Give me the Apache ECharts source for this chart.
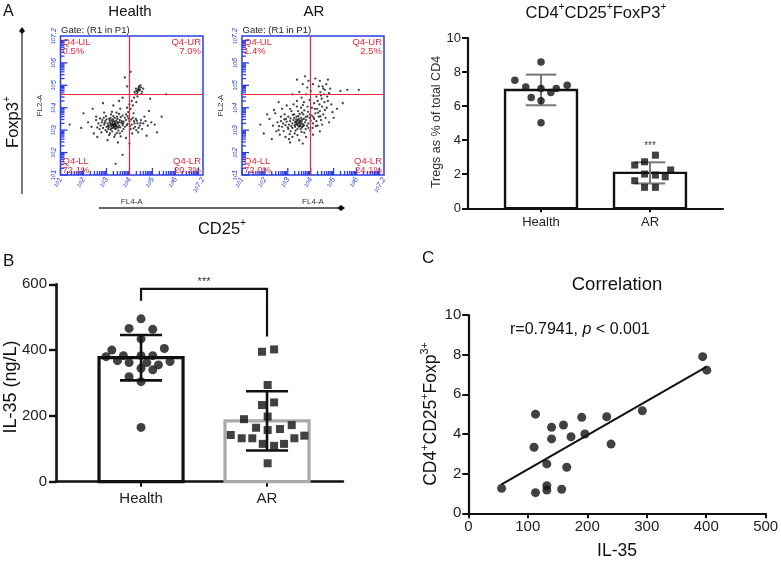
<!DOCTYPE html>
<html><head><meta charset="utf-8">
<script src="https://cdn.jsdelivr.net/npm/echarts@6/dist/echarts.min.js"></script>
<style>html,body{margin:0;padding:0;background:#fff}#c{width:781px;height:561px}</style>
</head><body><div id="c"></div>
<script>
// ---------------- DATA ----------------
const categories = ['Health', 'AR'];

// Panel A (flow cytometry) – events as [log10 FL4-A, log10 FL2-A]
const flowHealthEvents = [
[3.30,3.25],[3.35,3.20],[3.25,3.30],[3.40,3.28],[3.20,3.18],[3.45,3.15],[3.15,3.35],[3.32,3.40],[3.28,3.10],[3.50,3.30],
[3.10,3.22],[3.38,3.05],[3.55,3.20],[3.05,3.30],[3.22,3.45],[3.42,3.42],[3.60,3.12],[3.00,3.15],[3.18,3.02],[3.48,3.50],
[3.65,3.32],[2.95,3.40],[3.12,3.50],[3.36,3.55],[3.58,3.45],[3.70,3.22],[2.90,3.25],[3.25,2.95],[3.52,2.98],[3.08,3.05],
[3.75,3.38],[2.85,3.10],[3.30,3.62],[3.62,3.58],[2.80,3.35],[3.02,2.92],[3.45,2.88],[3.80,3.15],[2.75,3.20],[3.20,3.70],
[3.68,2.95],[2.88,3.55],[3.85,3.45],[2.70,3.05],[3.38,2.80],[3.92,3.28],[2.65,3.30],[3.15,2.85],[3.55,3.72],[2.98,3.62],
[3.33,3.28],[3.27,3.22],[3.37,3.33],[3.23,3.24],[3.43,3.22],[3.31,3.17],[3.18,3.28],[3.47,3.36],[3.35,3.12],[3.26,3.38],
[3.10,3.12],[3.22,3.08],[3.44,3.08],[3.56,3.36],[3.14,3.42],[3.28,3.48],[3.40,3.18],[3.52,3.12],[3.06,3.18],[3.66,3.40],
[2.92,3.32],[3.00,3.48],[3.18,3.55],[3.46,3.60],[3.72,3.30],[3.80,3.55],[2.82,3.45],[2.96,3.00],[3.12,2.78],[3.58,2.86],
[3.74,3.05],[3.88,3.22],[4.02,3.18],[4.08,3.48],[4.22,3.30],[4.32,3.42],[4.48,3.32],[4.18,3.08],[3.96,3.52],[2.72,3.52],
[2.60,3.12],[2.55,3.45],[2.78,2.90],[3.34,2.70],[3.62,2.72],[3.24,3.82],[3.44,3.78],[3.70,3.65],[3.92,3.62],[2.90,3.78],
[4.10,3.25],[4.25,3.15],[4.35,3.30],[4.20,3.40],[4.45,3.20],[4.05,3.05],[4.30,3.00],[4.50,3.45],[4.15,3.55],[4.40,3.10],
[4.60,3.30],[4.00,3.40],[4.28,3.50],[4.55,3.05],[4.70,3.40],[4.38,2.90],[4.80,3.20],[4.12,2.85],[4.65,3.60],[4.95,3.35],
[3.95,3.80],[4.05,3.95],[4.15,4.10],[4.10,4.30],[4.20,4.45],[4.25,4.60],[4.00,4.15],[3.90,4.00],[4.30,4.25],[4.18,3.75],
[3.85,3.70],[4.35,4.50],
[4.30,4.75],[4.38,4.82],[4.45,4.78],[4.35,4.68],[4.50,4.90],[4.28,4.85],[4.42,4.95],[4.55,4.72],[4.40,4.88],[4.48,5.00],
[4.22,4.70],[4.60,4.85],[4.33,4.60],[4.52,4.62],[4.43,4.80],[4.37,4.76],
[2.00,3.75],[1.40,3.25],[2.40,3.95],[2.55,3.60],[2.45,2.85],[2.60,2.70],[3.70,1.90],[3.50,2.45],[3.05,2.55],[4.00,2.40],
[3.85,2.65],[5.10,3.25],[5.40,3.60],[4.90,4.40],[3.80,5.35],[3.90,4.95],[3.70,4.45],[2.85,4.20],[1.90,3.10],[5.60,4.60],
[4.75,2.75],[3.30,4.10],[3.55,4.30],[5.20,2.90],[2.20,3.35],[4.85,3.85],[3.40,1.50],[4.05,5.60],[3.60,3.95],[2.35,3.15]
];
const flowAREvents = [
[3.50,3.35],[3.40,3.30],[3.60,3.40],[3.45,3.45],[3.55,3.25],[3.35,3.38],[3.65,3.28],[3.30,3.22],[3.70,3.50],[3.48,3.15],
[3.25,3.45],[3.58,3.55],[3.38,3.60],[3.75,3.35],[3.20,3.30],[3.62,3.12],[3.80,3.45],[3.15,3.18],[3.42,3.05],[3.85,3.62],
[3.28,3.55],[3.68,3.70],[3.10,3.40],[3.90,3.30],[3.05,3.25],[3.52,3.72],[3.95,3.55],[3.00,3.12],[3.34,2.98],[3.78,3.05],
[2.95,3.38],[4.00,3.42],[3.22,3.68],[3.88,3.82],[2.90,3.22],[3.60,2.92],[4.05,3.65],[2.85,3.48],[3.12,2.95],[3.72,3.88],
[4.10,3.30],[2.80,3.30],[3.45,3.85],[4.15,3.50],[3.02,3.60],[3.90,3.10],[2.75,3.15],[3.30,2.85],[4.20,3.75],[3.58,4.00],
[3.47,3.31],[3.53,3.42],[3.43,3.22],[3.57,3.33],[3.37,3.48],[3.63,3.47],[3.32,3.35],[3.67,3.18],[3.52,3.20],[3.41,3.40],
[3.20,3.10],[3.32,3.15],[3.56,3.05],[3.70,3.22],[3.78,3.58],[3.46,3.62],[3.28,3.70],[3.12,3.52],[3.02,3.05],[2.92,3.50],
[3.62,3.78],[3.84,3.20],[3.96,3.70],[4.12,3.58],[4.22,3.18],[4.32,3.78],[4.18,3.95],[3.86,4.05],[3.66,4.12],[3.40,4.05],
[3.16,3.85],[2.86,3.70],[2.70,3.40],[2.62,3.18],[2.82,2.96],[3.08,2.82],[3.42,2.78],[3.72,2.88],[3.98,2.98],[4.08,3.10],
[4.42,3.62],[4.50,3.25],[4.62,3.90],[4.72,4.50],[4.55,4.85],[4.45,4.55],[4.30,4.30],[3.48,3.50],[3.56,3.18],[3.36,3.26],
[4.25,3.40],[4.35,3.60],[4.30,3.20],[4.40,3.85],[4.45,3.45],[4.50,4.05],[4.55,3.70],[4.60,4.25],[4.38,4.15],[4.65,3.55],
[4.48,4.40],[4.70,4.00],[4.58,4.60],[4.75,4.30],[4.62,4.80],[4.42,4.70],[4.80,4.65],[4.52,4.95],[4.68,5.05],[4.85,4.85],
[4.35,4.95],[4.25,4.50],[4.15,4.20],[4.05,4.00],[3.95,4.35],[4.28,3.95],[4.90,4.15],[4.95,3.80],[4.80,3.35],[5.00,3.55],
[2.70,3.60],[2.60,3.00],[2.55,3.35],[2.45,3.75],[2.35,3.20],[2.20,3.50],[2.65,2.80],[2.90,2.70],[3.05,2.60],[2.50,2.95],
[2.40,3.90],[2.75,3.95],[3.10,3.95],[2.95,4.10],[3.25,4.15],[3.40,4.30],[3.60,4.45],[3.80,4.60],[3.70,4.25],[3.50,4.70],
[3.85,4.90],[4.00,4.75],[4.10,5.05],[3.90,5.20],[3.65,5.05],[4.20,5.30],[3.40,5.25],[3.20,2.70],[3.50,2.55],[3.80,2.70],
[1.80,3.25],[1.95,2.85],[2.10,3.70],[2.30,2.60],[3.10,2.45],[3.65,2.40],[4.10,2.80],[4.40,2.95],[5.15,3.95],[5.30,4.75],
[5.60,4.80],[6.10,4.80],[5.40,4.20],[4.75,5.25],[4.40,5.20],[3.75,5.40],[3.20,4.60],[2.60,4.25]
];
const flowGate = [4.0, 4.6];                     // quadrant gate (log10 FL4-A, log10 FL2-A)
const flowTickValues = [1, 2, 3, 4, 5, 6, 7.2];  // exponent tick labels
const quadNames = ['Q4-UL', 'Q4-UR', 'Q4-LL', 'Q4-LR'];
const quadHealth = ['0.5%', '7.0%', '72.1%', '20.3%'];
const quadAR = ['1.4%', '2.5%', '72.0%', '24.1%'];

// Panel A (right): Tregs as % of total CD4
const tregMean = [6.95, 2.08];
const tregSD = [0.90, 0.62];
const tregHealthVals = [7.52, 8.59, 7.13, 7.03, 6.80, 7.03, 7.23, 6.50, 6.31, 5.02];
const tregHealthJitter = [-0.24, 0, -0.14, 0, 0.09, 0.14, 0.24, -0.09, 0, 0];
const tregARVals = [3.12, 2.54, 2.73, 2.25, 1.95, 2.01, 1.85, 1.62, 1.23, 1.23];
const tregARJitter = [0.05, -0.14, -0.05, 0.19, 0.05, -0.05, 0.14, -0.14, -0.05, 0.05];
const tregStarsAt = 3.67;

// Panel B: IL-35 (ng/L)
const il35Mean = [377, 185];
const il35SD = [69, 90];
const il35HealthVals = [495,466,463,434,400,405,380,383,368,362,383,383,362,355,365,345,340,319,304,165];
const il35HealthJitter = [0,-0.095,0.093,0,-0.232,0.185,-0.278,-0.14,-0.187,-0.095,0,0.093,0.046,0.138,0.23,0,0.093,-0.095,0,0];
const il35ARVals = [395,402,294,233,241,190,198,142,164,157,160,172,132,132,115,109,115,132,140,56];
const il35ARJitter = [-0.04,0.056,0.005,-0.04,0.056,-0.183,0.005,-0.288,-0.087,0.005,0.103,0.196,-0.201,-0.117,-0.034,0.056,0.135,0.217,0.296,0.005];
const il35Bracket = [586, 550, 441];  // top, left leg end, right leg end
const il35StarsAt = 607;

// Panel C: correlation
const corrIL35 = [56,113,132,132,157,132,165.5,110.5,140,172.7,196,140,160,190.7,232.7,240,113,292.6,394,401];
const corrTreg = [1.26,1.04,1.17,1.39,1.21,2.49,2.32,3.33,3.75,3.86,4.00,4.34,4.45,4.84,4.87,3.49,5.00,5.17,7.90,7.22];

// ---------------- CHART ----------------
const FONT = '"Liberation Sans", Arial, sans-serif';
const BLUE = '#2b3ee6', RED = '#e8283c', INK = '#111';
const chart = echarts.init(document.getElementById('c'), null, {renderer: 'canvas'});

const minorTicks = [];
for (let n = 1; n <= 7; n++) for (let k = 1; k <= 9; k++) {
  const v = n + Math.log10(k);
  if (v <= 7.2 + 1e-9) minorTicks.push([v, k === 1 ? 1 : 0]);
}

function flowAxes(gi) {
  const lab = (rot) => ({
    customValues: flowTickValues, rotate: rot, color: BLUE, fontSize: 7, margin: 3, fontFamily: FONT,
    formatter: v => '{a|10}{b|' + v + '}',
    rich: {a: {fontSize: 5.5, color: BLUE, fontStyle: 'italic'}, b: {fontSize: 7.5, color: BLUE, fontStyle: 'italic', verticalAlign: 'top'}}
  });
  return {
    x: {type: 'value', gridIndex: gi, min: 1, max: 7.2, axisLine: {show: false}, axisTick: {show: false},
        splitLine: {show: false}, axisLabel: lab(60),
        name: 'FL4-A', nameLocation: 'middle', nameGap: 18, nameTextStyle: {fontSize: 8, color: '#333', fontFamily: FONT}},
    y: {type: 'value', gridIndex: gi, min: 1, max: 7.2, axisLine: {show: false}, axisTick: {show: false},
        splitLine: {show: false}, axisLabel: lab(90),
        name: 'FL2-A', nameLocation: 'middle', nameGap: 17, nameRotate: 90, nameTextStyle: {fontSize: 8, color: '#333', fontFamily: FONT}}
  };
}

function flowSeries(gi, events) {
  return [
    {type: 'scatter', xAxisIndex: gi, yAxisIndex: gi, data: events, symbolSize: 2.3, silent: true,
     itemStyle: {color: INK}, z: 2,
     markLine: {silent: true, symbol: 'none', label: {show: false}, animation: false,
       lineStyle: {color: RED, width: 1.2, type: 'solid'},
       data: [{xAxis: flowGate[0]}, {yAxis: flowGate[1]}]}},
    {type: 'custom', xAxisIndex: gi, yAxisIndex: gi, data: minorTicks, silent: true, clip: false, z: 3,
     renderItem: (p, api) => {
       const v = api.value(0), major = api.value(1);
       const len = major ? 7 : 4;
       const a = api.coord([1, v]), b = api.coord([v, 1]);
       return {type: 'group', children: [
         {type: 'line', shape: {x1: a[0], y1: a[1], x2: a[0] + len, y2: a[1]}, style: {stroke: BLUE, lineWidth: 1.3}},
         {type: 'line', shape: {x1: b[0], y1: b[1], x2: b[0], y2: b[1] - len}, style: {stroke: BLUE, lineWidth: 1.3}}
       ]};
     }}
  ];
}

function barPanel(gi, means, sds, barStroke, barLW, barW, errColor, errLW, capHalf) {
  return [
    {type: 'custom', xAxisIndex: gi, yAxisIndex: gi, data: means.map((m, i) => [i + 1, m]), silent: true, z: 1,
     renderItem: (p, api) => {
       const x = api.value(0), m = api.value(1);
       const p0 = api.coord([x - barW / 2, 0]), p1 = api.coord([x + barW / 2, m]);
       return {type: 'rect', shape: {x: p0[0], y: p1[1], width: p1[0] - p0[0], height: p0[1] - p1[1]},
               style: {fill: '#fff', stroke: barStroke[p.dataIndex], lineWidth: barLW}};
     }},
    {type: 'custom', xAxisIndex: gi, yAxisIndex: gi, data: means.map((m, i) => [i + 1, m, sds[i]]), silent: true, z: 2,
     renderItem: (p, api) => {
       const x = api.value(0), m = api.value(1), s = api.value(2);
       const top = api.coord([x, m + s]), bot = api.coord([x, m - s]);
       const tl = api.coord([x - capHalf, m + s]), tr = api.coord([x + capHalf, m + s]);
       const bl = api.coord([x - capHalf, m - s]), br = api.coord([x + capHalf, m - s]);
       const st = {stroke: errColor, lineWidth: errLW};
       return {type: 'group', children: [
         {type: 'line', shape: {x1: top[0], y1: top[1], x2: bot[0], y2: bot[1]}, style: st},
         {type: 'line', shape: {x1: tl[0], y1: tl[1], x2: tr[0], y2: tr[1]}, style: st},
         {type: 'line', shape: {x1: bl[0], y1: bl[1], x2: br[0], y2: br[1]}, style: st}
       ]};
     }}
  ];
}

function starText(gi, x, y, size, color) {
  return {type: 'custom', xAxisIndex: gi, yAxisIndex: gi, data: [[x, y]], silent: true, clip: false, z: 5,
    renderItem: (p, api) => {
      const c = api.coord([api.value(0), api.value(1)]);
      return {type: 'text', x: c[0], y: c[1], style: {text: '***', fontSize: size, fill: color, fontFamily: FONT, align: 'center', verticalAlign: 'middle'}};
    }};
}

const fA = flowAxes(0), fB = flowAxes(1);
const axisBlack = (w) => ({show: true, onZero: false, lineStyle: {color: INK, width: w}});

// regression for panel C
const n = corrIL35.length;
const mx = corrIL35.reduce((a, b) => a + b, 0) / n, my = corrTreg.reduce((a, b) => a + b, 0) / n;
let sxy = 0, sxx = 0;
for (let i = 0; i < n; i++) { sxy += (corrIL35[i] - mx) * (corrTreg[i] - my); sxx += (corrIL35[i] - mx) ** 2; }
const slope = sxy / sxx, icpt = my - slope * mx;
const xLo = Math.min(...corrIL35), xHi = Math.max(...corrIL35);

const tickLbl = (fs, m) => ({color: '#222', fontSize: fs, margin: m, fontFamily: FONT});
const tk = (len, w) => ({inside: false, length: len, lineStyle: {color: INK, width: w}});

const option = {
  animation: false,
  textStyle: {fontFamily: FONT},
  grid: [
    {left: 60.5, top: 36, width: 142.5, height: 139, show: true, borderColor: BLUE, borderWidth: 1.5, outerBoundsMode: 'none', containLabel: false},
    {left: 242, top: 36, width: 142, height: 139, show: true, borderColor: BLUE, borderWidth: 1.5, outerBoundsMode: 'none', containLabel: false},
    {left: 468, top: 38, width: 255, height: 170.3, outerBoundsMode: 'none', containLabel: false},
    {left: 56, top: 284.3, width: 287, height: 197.4, outerBoundsMode: 'none', containLabel: false},
    {left: 468.3, top: 315, width: 297.4, height: 198.3, outerBoundsMode: 'none', containLabel: false}
  ],
  xAxis: [
    fA.x, fB.x,
    {type: 'value', gridIndex: 2, min: 0.33, max: 2.67, axisLine: axisBlack(2.2), splitLine: {show: false},
     axisTick: Object.assign(tk(4, 2), {customValues: [1, 2]}),
     axisLabel: Object.assign(tickLbl(13, 8), {customValues: [1, 2], formatter: v => categories[v - 1]})},
    {type: 'value', gridIndex: 3, min: 0.325, max: 2.603, axisLine: axisBlack(2.6), splitLine: {show: false},
     axisTick: Object.assign(tk(5, 2), {customValues: [1, 2]}),
     axisLabel: Object.assign(tickLbl(15, 10), {customValues: [1, 2], formatter: v => categories[v - 1]})},
    {type: 'value', gridIndex: 4, min: 0, max: 500, interval: 100, axisLine: axisBlack(2.2), splitLine: {show: false},
     axisTick: tk(5, 2), axisLabel: tickLbl(15, 6)}
  ],
  yAxis: [
    fA.y, fB.y,
    {type: 'value', gridIndex: 2, min: 0, max: 10, interval: 2, axisLine: axisBlack(2.2), splitLine: {show: false},
     axisTick: tk(6, 2), axisLabel: tickLbl(13, 7)},
    {type: 'value', gridIndex: 3, min: 0, max: 600, interval: 200, axisLine: axisBlack(2.6), splitLine: {show: false},
     axisTick: tk(7, 2.4), axisLabel: tickLbl(15, 9)},
    {type: 'value', gridIndex: 4, min: 0, max: 10, interval: 2, axisLine: axisBlack(2.2), splitLine: {show: false},
     axisTick: tk(6, 2), axisLabel: tickLbl(15, 7)}
  ],
  series: [
    ...flowSeries(0, flowHealthEvents),
    ...flowSeries(1, flowAREvents),
    ...barPanel(2, tregMean, tregSD, [INK, INK], 2.4, 0.66, '#777', 2, 0.14),
    {type: 'scatter', xAxisIndex: 2, yAxisIndex: 2, symbol: 'circle', symbolSize: 7.5, itemStyle: {color: INK}, z: 3, silent: true,
     data: tregHealthVals.map((v, i) => [1 + tregHealthJitter[i], v])},
    {type: 'scatter', xAxisIndex: 2, yAxisIndex: 2, symbol: 'rect', symbolSize: 7, itemStyle: {color: INK}, z: 3, silent: true,
     data: tregARVals.map((v, i) => [2 + tregARJitter[i], v])},
    starText(2, 2, tregStarsAt, 10, '#444'),
    ...barPanel(3, il35Mean, il35SD, [INK, '#a9a9a9'], 3.2, 0.667, INK, 2.6, 0.167),
    {type: 'scatter', xAxisIndex: 3, yAxisIndex: 3, symbol: 'circle', symbolSize: 9, itemStyle: {color: INK}, z: 3, silent: true,
     data: il35HealthVals.map((v, i) => [1 + il35HealthJitter[i], v])},
    {type: 'scatter', xAxisIndex: 3, yAxisIndex: 3, symbol: 'rect', symbolSize: 8, itemStyle: {color: INK}, z: 3, silent: true,
     data: il35ARVals.map((v, i) => [2 + il35ARJitter[i], v])},
    {type: 'custom', xAxisIndex: 3, yAxisIndex: 3, data: [il35Bracket], silent: true, clip: false, z: 4,
     renderItem: (p, api) => {
       const a = api.coord([1, api.value(1)]), b = api.coord([1, api.value(0)]);
       const c = api.coord([2, api.value(0)]), d = api.coord([2, api.value(2)]);
       return {type: 'polyline', shape: {points: [a, b, c, d]}, style: {stroke: INK, lineWidth: 2.2, fill: null}};
     }},
    starText(3, 1.5, il35StarsAt, 11, '#333'),
    {type: 'scatter', xAxisIndex: 4, yAxisIndex: 4, symbol: 'circle', symbolSize: 9, itemStyle: {color: INK}, z: 3, silent: true,
     data: corrIL35.map((v, i) => [v, corrTreg[i]])},
    {type: 'line', xAxisIndex: 4, yAxisIndex: 4, showSymbol: false, silent: true, z: 2,
     lineStyle: {color: INK, width: 2},
     data: [[xLo, icpt + slope * xLo], [xHi, icpt + slope * xHi]]}
  ],
  graphic: {elements: []}
};

// ---- text & decoration (layout) ----
const G = option.graphic.elements;
function txt(x, y, text, fs, o = {}) {
  G.push({type: 'text', x, y, rotation: o.rot || 0, silent: true, z: 10,
    style: {text, fontSize: fs, fill: o.color || INK, fontFamily: FONT, align: o.align || 'center', verticalAlign: 'middle',
            fontStyle: o.italic ? 'italic' : 'normal', rich: o.rich}});
}
const supRich = (fs) => ({n: {fontSize: fs, fill: INK, verticalAlign: 'bottom', lineHeight: fs * 1.2},
                          s: {fontSize: fs * 0.62, fill: INK, verticalAlign: 'top', lineHeight: fs * 1.2},
                          i: {fontSize: fs, fill: INK, fontStyle: 'italic', verticalAlign: 'bottom', lineHeight: fs * 1.2}});

txt(3, 12, 'A', 16, {align: 'left'});
txt(130, 12, 'Health', 15);
txt(314, 12, 'AR', 15);
txt(61, 30, 'Gate: (R1 in P1)', 9.5, {align: 'left', color: '#222'});
txt(242.5, 30, 'Gate: (R1 in P1)', 9.5, {align: 'left', color: '#222'});

function quad(left, right, vals) {
  txt(left + 2, 42, quadNames[0], 9.5, {align: 'left', color: RED});
  txt(left + 2, 51.5, vals[0], 9.5, {align: 'left', color: RED});
  txt(right - 2, 42, quadNames[1], 9.5, {align: 'right', color: RED});
  txt(right - 2, 51.5, vals[1], 9.5, {align: 'right', color: RED});
  txt(left + 2, 161, quadNames[2], 9.5, {align: 'left', color: RED});
  txt(left + 2, 170.5, vals[2], 9.5, {align: 'left', color: RED});
  txt(right - 2, 161, quadNames[3], 9.5, {align: 'right', color: RED});
  txt(right - 2, 170.5, vals[3], 9.5, {align: 'right', color: RED});
}
quad(60.5, 203, quadHealth);
quad(242, 384, quadAR);

// big axes arrows
G.push({type: 'line', silent: true, shape: {x1: 22, y1: 31, x2: 22, y2: 194}, style: {stroke: '#333', lineWidth: 1.3}});
G.push({type: 'polygon', silent: true, shape: {points: [[22, 27], [25, 31], [22, 34], [19, 31]]}, style: {fill: INK}});
G.push({type: 'line', silent: true, shape: {x1: 99, y1: 208, x2: 340, y2: 208}, style: {stroke: '#333', lineWidth: 1.3}});
G.push({type: 'polygon', silent: true, shape: {points: [[337, 208], [341, 205], [345, 208], [341, 211]]}, style: {fill: INK}});
txt(12, 122, '{n|Foxp3}{s|+}', 16.5, {rot: Math.PI / 2, rich: supRich(16.5)});
txt(222, 228, '{n|CD25}{s|+}', 16.5, {rich: supRich(16.5)});

// top-right panel
txt(596, 12, '{n|CD4}{s|+}{n|CD25}{s|+}{n|FoxP3}{s|+}', 16.5, {rich: supRich(16.5)});
txt(437, 122, 'Tregs as % of total CD4', 12.5, {rot: Math.PI / 2, color: '#333'});

// panel B
txt(3, 261, 'B', 17, {align: 'left'});
txt(11, 387, 'IL-35 (ng/L)', 18, {rot: Math.PI / 2});

// panel C
txt(422, 258, 'C', 17, {align: 'left'});
txt(617, 285, 'Correlation', 18.5);
txt(510, 328, '{n|r=0.7941, }{i|p}{n| < 0.001}', 16, {align: 'left', rich: supRich(16)});
txt(430, 414, '{n|CD4}{s|+}{n|CD25}{s|+}{n|Foxp}{s|3+}', 17.5, {rot: Math.PI / 2, rich: supRich(17.5)});
txt(617, 551, 'IL-35', 17.5);

chart.setOption(option);
</script>
</body></html>
